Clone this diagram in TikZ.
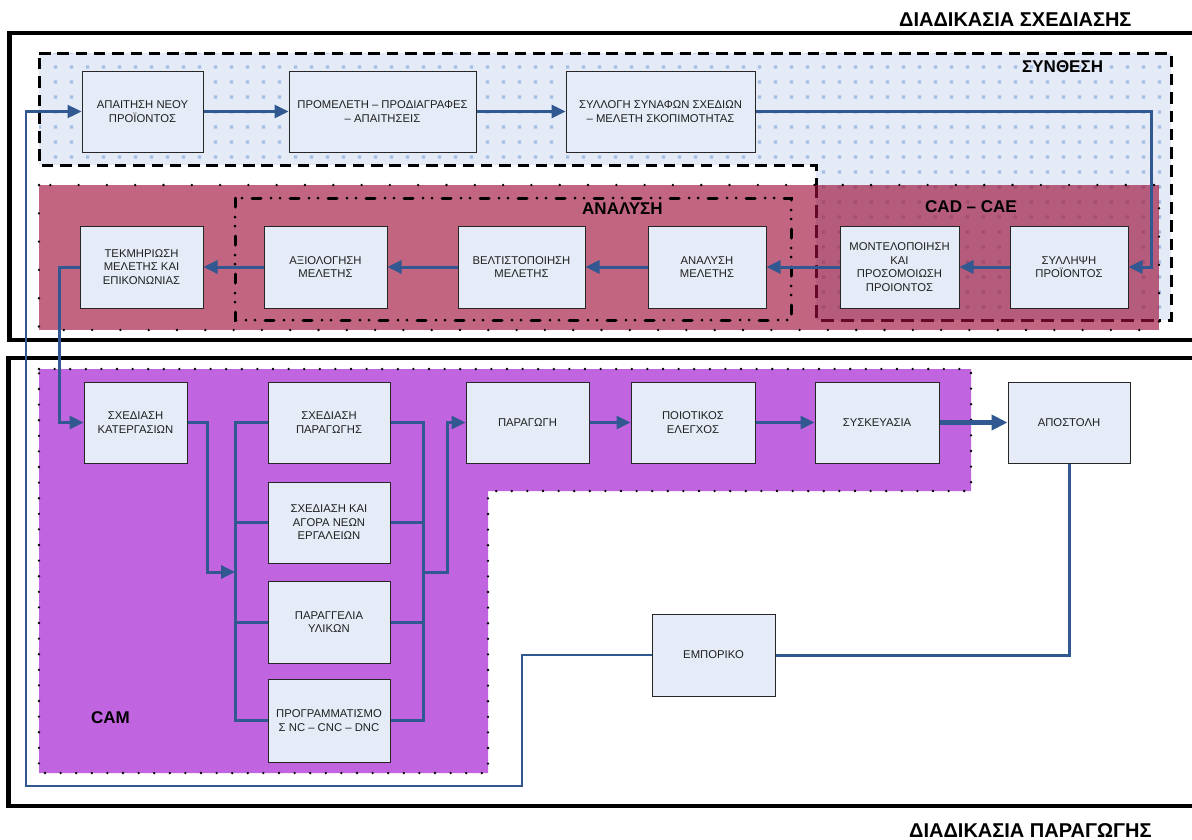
\documentclass[tikz,border=0pt]{standalone}
\usepackage{fontspec}
\setmainfont{Liberation Sans}
\usetikzlibrary{arrows.meta,patterns.meta}

\definecolor{linkblue}{RGB}{50,88,145}
\definecolor{boxfill}{RGB}{229,236,247}
\definecolor{synbg}{RGB}{228,234,246}
\definecolor{syndot}{RGB}{165,190,228}
\definecolor{anared}{RGB}{193,101,128}
\definecolor{cadred}{RGB}{181,91,123}
\definecolor{caddot}{RGB}{162,78,112}
\definecolor{campurple}{RGB}{193,100,224}
\definecolor{cadframe}{RGB}{100,10,40}

\tikzdeclarepattern{
  name=gridpts,
  type=uncolored,
  bounding box={(0pt,0pt) and (16pt,15pt)},
  tile size={(16pt,15pt)},
  code={\fill (6.3pt,5.8pt) rectangle (9.7pt,9.2pt);}
}

\begin{document}
\begin{tikzpicture}[x=1pt, y=-1pt, >={Triangle[length=14pt,width=13pt]},
    every node/.style={font=\fontsize{11.3}{13.6}\selectfont, text=black!88},
    blk/.style={draw=black!85, line width=1pt, fill=boxfill, align=center, inner sep=0pt, minimum width=122pt, minimum height=82pt},
    link/.style={draw=linkblue, line width=3pt},
    hdr/.style={font=\bfseries\fontsize{17}{20}\selectfont, text=black, inner sep=0pt, anchor=base west},
    bighdr/.style={hdr, font=\bfseries\fontsize{20}{24}\selectfont},
    procframe/.style={draw=black, line width=4.5pt},
    dotline/.style={draw=black, line width=2.6pt, line cap=round}]
    \useasboundingbox (0,0) rectangle (1192,839);
    \clip (0,0) rectangle (1192,839);
    \fill[white] (0,0) rectangle (1192,839);

    % 1. outer frames and their titles
    \draw[procframe] (9.5,33) rectangle (1230,340);
    \draw[procframe] (8.5,358) rectangle (1230,806);
    \node[bighdr] (tsxed) at (899,26) {ΔΙΑΔΙΚΑΣΙΑ ΣΧΕΔΙΑΣΗΣ};
    \node[bighdr] (tparag) at (909,837) {ΔΙΑΔΙΚΑΣΙΑ ΠΑΡΑΓΩΓΗΣ};

    % 2. synthesis zone (stepped)
    \path[pattern=gridpts, pattern color=syndot, preaction={fill=synbg},
          draw=black, line width=3pt, dash pattern=on 11.5pt off 6.8pt]
        (39,53) -- (1171,53) -- (1171,320) -- (816,320) -- (816,165) -- (39,165) -- cycle;

    % 3. analysis zone, CAD - CAE overlap
    \fill[anared] (39,185) rectangle (1159,330);
    \path[pattern=gridpts, pattern color=caddot, preaction={fill=cadred}] (816,185) rectangle (1159,320);
    \draw[dotline, dash pattern=on 0pt off 28.3pt] (39,185) rectangle (1159,330);
    \draw[cadframe, line width=3pt, dash pattern=on 13pt off 7pt] (816,185) -- (816,320) -- (1159,320);
    \draw[black, line width=3pt, line cap=round, dash pattern=on 9pt off 10pt on 0pt off 9pt on 0pt off 10pt]
        (235,198) rectangle (791,320);

    % 4. CAM zone
    \path[fill=campurple, dotline, dash pattern=on 0pt off 15.6pt]
        (39,369) -- (971,369) -- (971,491) -- (488,491) -- (488,773) -- (39,773) -- cycle;

    % zone titles
    \node[hdr] (tsyn) at (1022,72) {ΣΥΝΘΕΣΗ};
    \node[hdr] (tana) at (582,214) {ΑΝΑΛΥΣΗ};
    \node[hdr] (tcad) at (925,212) {CAD – CAE};
    \node[hdr] (tcam) at (91,723) {CAM};

    % 5. boxes, first row
    \node[blk, minimum width=121pt, minimum height=81pt] (apaitisi) at (142.5,111.5) {ΑΠΑΙΤΗΣΗ ΝΕΟΥ\\ΠΡΟΪΟΝΤΟΣ};
    \node[blk, minimum width=187pt, minimum height=81pt] (promeleti) at (382.5,111.5) {ΠΡΟΜΕΛΕΤΗ – ΠΡΟΔΙΑΓΡΑΦΕΣ\\– ΑΠΑΙΤΗΣΕΙΣ};
    \node[blk, minimum width=189pt, minimum height=81pt] (syllogi) at (660.5,111.5) {ΣΥΛΛΟΓΗ ΣΥΝΑΦΩΝ ΣΧΕΔΙΩΝ\\– ΜΕΛΕΤΗ ΣΚΟΠΙΜΟΤΗΤΑΣ};

    % second row
    \node[blk, minimum width=123pt] (tekmiriosi) at (141.5,267) {ΤΕΚΜΗΡΙΩΣΗ\\ΜΕΛΕΤΗΣ ΚΑΙ\\ΕΠΙΚΟΝΩΝΙΑΣ};
    \node[blk, minimum width=123pt] (axiologisi) at (325.5,267) {ΑΞΙΟΛΟΓΗΣΗ\\ΜΕΛΕΤΗΣ};
    \node[blk, minimum width=127pt] (veltistop) at (521.5,267) {ΒΕΛΤΙΣΤΟΠΟΙΗΣΗ\\ΜΕΛΕΤΗΣ};
    \node[blk, minimum width=118pt] (analysi) at (707,267) {ΑΝΑΛΥΣΗ\\ΜΕΛΕΤΗΣ};
    \node[blk, minimum width=119pt] (montelo) at (899.5,267) {ΜΟΝΤΕΛΟΠΟΙΗΣΗ\\ΚΑΙ\\ΠΡΟΣΟΜΟΙΩΣΗ\\ΠΡΟΙΟΝΤΟΣ};
    \node[blk, minimum width=118pt] (syllipsi) at (1069,267) {ΣΥΛΛΗΨΗ\\ΠΡΟΪΟΝΤΟΣ};

    % third row and column
    \node[blk, minimum width=103pt, minimum height=81pt] (katergasion) at (135.5,422.5) {ΣΧΕΔΙΑΣΗ\\ΚΑΤΕΡΓΑΣΙΩΝ};
    \node[blk, minimum height=81pt] (sxparagogis) at (329,422.5) {ΣΧΕΔΙΑΣΗ\\ΠΑΡΑΓΩΓΗΣ};
    \node[blk, minimum height=81pt] (agora) at (329,522.5) {ΣΧΕΔΙΑΣΗ ΚΑΙ\\ΑΓΟΡΑ ΝΕΩΝ\\ΕΡΓΑΛΕΙΩΝ};
    \node[blk] (paraggelia) at (329,622) {ΠΑΡΑΓΓΕΛΙΑ\\ΥΛΙΚΩΝ};
    \node[blk, minimum height=83pt] (programm) at (329,720.5) {ΠΡΟΓΡΑΜΜΑΤΙΣΜΟ\\Σ NC – CNC – DNC};
    \node[blk, minimum width=123pt, minimum height=81pt] (paragogi) at (527.5,422.5) {ΠΑΡΑΓΩΓΗ};
    \node[blk, minimum width=124pt, minimum height=81pt] (poiotikos) at (693,422.5) {ΠΟΙΟΤΙΚΟΣ\\ΕΛΕΓΧΟΣ};
    \node[blk, minimum width=124pt, minimum height=81pt] (syskeuasia) at (877,422.5) {ΣΥΣΚΕΥΑΣΙΑ};
    \node[blk, minimum height=81pt] (apostoli) at (1069,422.5) {ΑΠΟΣΤΟΛΗ};
    \node[blk, minimum width=123pt] (emporiko) at (713.5,655) {ΕΜΠΟΡΙΚΟ};

    % 6. connectors
    \coordinate (rtturn) at (1151,111.5);
    \coordinate (tekturn) at (59,267);
    \coordinate (inbus) at (235,572);
    \coordinate (lbus) at (235,720.5);
    \coordinate (rbus) at (423,720.5);
    \coordinate (outbus) at (423,572);
    \coordinate (lpA) at (522,786);
    \coordinate (lpB) at (26,786);

    \draw[link,->] (apaitisi.east) -- (promeleti.west);
    \draw[link,->] (promeleti.east) -- (syllogi.west);
    \draw[link,->] (syllogi.east) -- (rtturn) |- (syllipsi.east);
    \draw[link,->] (syllipsi.west) -- (montelo.east);
    \draw[link,->] (montelo.west) -- (analysi.east);
    \draw[link,->] (analysi.west) -- (veltistop.east);
    \draw[link,->] (veltistop.west) -- (axiologisi.east);
    \draw[link,->] (axiologisi.west) -- (tekmiriosi.east);
    \draw[link,->] (tekmiriosi.west) -- (tekturn) |- (katergasion.west);

    \draw[link,->] (katergasion.east) -- ++(20,0) |- (inbus);
    \draw[link] (sxparagogis.west) -| (lbus) -- (programm.west);
    \draw[link] (agora.west) -- (agora.west -| lbus);
    \draw[link] (paraggelia.west) -- (paraggelia.west -| lbus);
    \draw[link] (sxparagogis.east) -| (rbus) -- (programm.east);
    \draw[link] (agora.east) -- (agora.east -| rbus);
    \draw[link] (paraggelia.east) -- (paraggelia.east -| rbus);
    \draw[link,->] (outbus) -- ++(24,0) |- (paragogi.west);

    \draw[link,->] (paragogi.east) -- (poiotikos.west);
    \draw[link,->] (poiotikos.east) -- (syskeuasia.west);
    \draw[link,-{Triangle[length=16pt,width=15pt]},line width=4.5pt] (syskeuasia.east) -- (apostoli.west);

    \draw[link] (apostoli.south) |- (emporiko.east);
    \draw[link,->,line width=2.4pt] (emporiko.west) -| (lpA) -- (lpB) |- (apaitisi.west);
\end{tikzpicture}
\end{document}
